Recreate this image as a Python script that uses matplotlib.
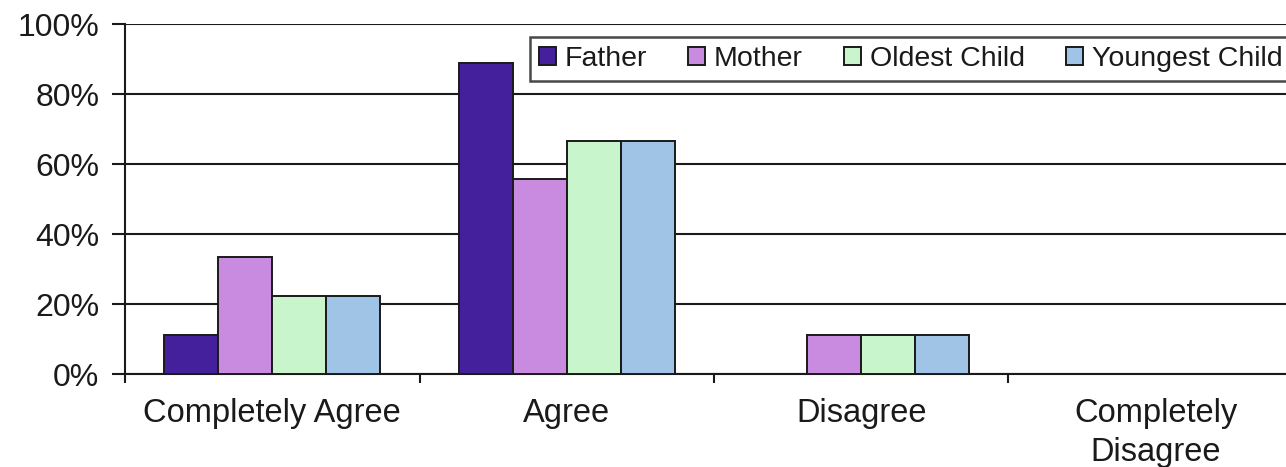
import matplotlib.pyplot as plt
import numpy as np
from matplotlib.ticker import PercentFormatter

plt.rcParams['font.family'] = ['Liberation Sans', 'DejaVu Sans']

categories = ['Completely Agree', 'Agree', 'Disagree', 'Completely\nDisagree']
series = ['Father', 'Mother', 'Oldest Child', 'Youngest Child']
father = [11.1, 88.9, 0, 0]
mother = [33.3, 55.6, 11.1, 0]
oldest = [22.2, 66.7, 11.1, 0]
youngest = [22.2, 66.7, 11.1, 0]
colors = ['#45209c', '#c88be0', '#c8f5cc', '#a0c4e6']
ink = '#1a1a1a'

fig = plt.figure(figsize=(12.86, 4.67), dpi=100)
ax = fig.add_axes([125/1286, 93/467, 1178/1286, 350/467])

x = np.arange(len(categories))
w = 0.183
for i, (vals, name) in enumerate(zip([father, mother, oldest, youngest], series)):
    ax.bar(x + (i - 1.5) * w, vals, w, color=colors[i], edgecolor=ink,
           linewidth=1.4, label=name, zorder=3)

ax.set_xlim(-0.5, len(categories) - 0.5)
ax.set_ylim(0, 100)
ax.set_yticks(range(0, 101, 20))
ax.yaxis.set_major_formatter(PercentFormatter(decimals=0))
ax.yaxis.grid(True, color=ink, linewidth=1.5, zorder=0)
ax.tick_params(axis='y', length=9.4, width=1.5, labelsize=23, pad=9, color=ink,
               labelcolor=ink)

ax.set_xticks(x)
ax.set_xticklabels(categories, fontsize=23.5, color=ink, linespacing=1.35)
ax.tick_params(axis='x', length=0, pad=17)
ax.set_xticks(np.arange(-0.5, len(categories)), minor=True)
ax.tick_params(axis='x', which='minor', length=6.5, width=1.5, color=ink)

for s in ['top', 'right']:
    ax.spines[s].set_visible(False)
for s in ['left', 'bottom']:
    ax.spines[s].set_linewidth(1.5)
    ax.spines[s].set_color(ink)

leg = ax.legend(loc='upper left', bbox_to_anchor=(530/1286, 1 - 37/467),
                bbox_transform=fig.transFigure, ncol=4, fontsize=20.5,
                frameon=True, fancybox=False, handlelength=0.6, handleheight=0.6,
                handletextpad=0.3, columnspacing=1.45, borderpad=0.32,
                borderaxespad=0)
leg.get_frame().set_edgecolor(ink)
leg.get_frame().set_linewidth(1.8)
for t in leg.get_texts():
    t.set_color(ink)

fig.savefig('out.png', dpi=100)
